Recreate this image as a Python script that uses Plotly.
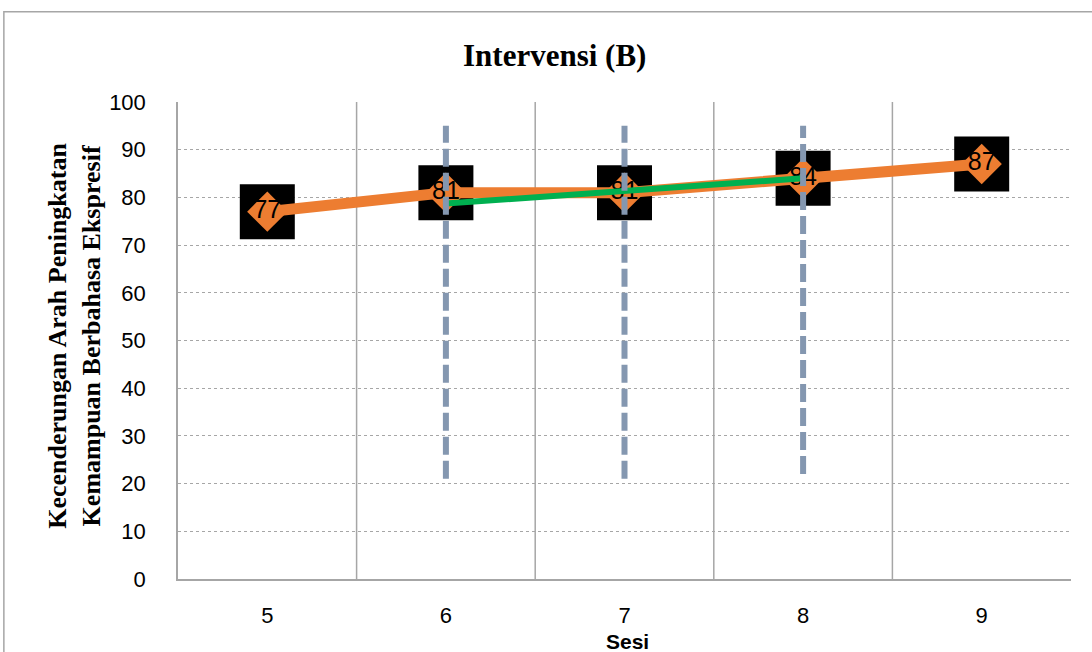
import plotly.graph_objects as go

sessions = [5, 6, 7, 8, 9]
scores = [77, 81, 81, 84, 87]
trend_x = [6, 8]
trend_y = [78.7, 84]
median_x = [6, 7, 8]
median_top = [95, 95, 95]
median_bottom = [21, 21, 22]
y_ticks = [0, 10, 20, 30, 40, 50, 60, 70, 80, 90, 100]

fig = go.Figure()

# black label boxes
fig.add_trace(go.Scatter(x=sessions, y=scores, mode="markers",
                         marker=dict(symbol="square", size=55, color="black"),
                         hoverinfo="skip", showlegend=False))
# orange data line
fig.add_trace(go.Scatter(x=sessions, y=scores, mode="lines",
                         line=dict(color="#ED7D31", width=11),
                         showlegend=False))
fig.add_trace(go.Scatter(x=sessions, y=scores, mode="markers+text",
                         marker=dict(symbol="diamond", size=31, color="#ED7D31"),
                         text=[str(v) for v in scores], textposition="middle center",
                         textfont=dict(family="Liberation Sans", size=25, color="black"),
                         showlegend=False))
# green trend line
fig.add_trace(go.Scatter(x=trend_x, y=trend_y, mode="lines",
                         line=dict(color="#00B050", width=6), showlegend=False))
# dashed vertical lines
for xv, yt, yb in zip(median_x, median_top, median_bottom):
    fig.add_trace(go.Scatter(x=[xv, xv], y=[yb, yt], mode="lines",
                             line=dict(color="#8497B0", width=6, dash="18px,6px"),
                             showlegend=False))

fig.update_layout(
    width=1092, height=652,
    margin=dict(l=178, r=21, t=102, b=73),
    paper_bgcolor="white", plot_bgcolor="white",
    showlegend=False,
    font=dict(family="Liberation Sans", color="black"),
    xaxis=dict(range=[4.5, 9.5], tickvals=sessions, ticktext=[str(s) for s in sessions],
               showgrid=False, zeroline=False, showline=True, linecolor="#A6A6A6",
               linewidth=1.5, tickfont=dict(size=22, family="Liberation Sans"),
               ticks="", ticklabelstandoff=16),
    yaxis=dict(range=[0, 100], tickvals=y_ticks, showgrid=True,
               gridcolor="#A6A6A6", griddash="dot", gridwidth=1,
               zeroline=False, showline=True, linecolor="#A6A6A6", linewidth=1.5,
               tickfont=dict(size=22, family="Liberation Sans"), ticks="",
               ticklabelstandoff=26),
)

# vertical category separators
for b in [5.5, 6.5, 7.5, 8.5]:
    fig.add_shape(type="line", xref="x", yref="paper", x0=b, x1=b, y0=0, y1=1,
                  line=dict(color="#A6A6A6", width=1.5), layer="below")
# outer chart border
fig.add_shape(type="rect", xref="paper", yref="paper", x0=-0.195, x1=1.03,
              y0=-0.2, y1=1.189, line=dict(color="#A6A6A6", width=1.5))

fig.add_annotation(text="<b>Intervensi (B)</b>", xref="paper", yref="paper",
                   x=0.422, y=1.0985, xanchor="center", yanchor="middle", showarrow=False,
                   font=dict(family="Liberation Serif", size=31, color="black"))
fig.add_annotation(text="<b>Kecenderungan Arah Peningkatan<br>Kemampuan Berbahasa Ekspresif</b>",
                   xref="paper", yref="paper", x=-0.1153, y=0.51, textangle=-90,
                   xanchor="center", yanchor="middle", showarrow=False,
                   font=dict(family="Liberation Serif", size=26, color="black"))
fig.add_annotation(text="<b>Sesi</b>", xref="paper", yref="paper", x=0.503, y=-0.13,
                   xanchor="center", yanchor="middle", showarrow=False,
                   font=dict(family="Liberation Sans", size=21, color="black"))

fig.write_html("out.html")
